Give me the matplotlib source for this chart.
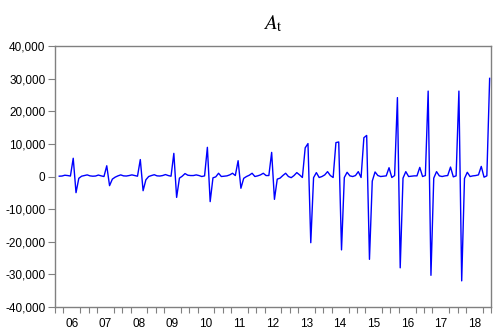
import numpy as np
import matplotlib
matplotlib.use('Agg')
import matplotlib.pyplot as plt
from matplotlib.ticker import FuncFormatter, FixedLocator

## Monthly values of A_t, 2006m1 - 2018m12 (2006m1 not available)
years = ['06', '07', '08', '09', '10', '11', '12', '13', '14', '15', '16', '17', '18']
a_2006 = [np.nan, 100, 150, 400, 300, 150, 5600, -4950, -550, 100, 300, 500]
a_2007 = [200, 100, 150, 450, 200, 0, 3300, -2800, -800, -200, 200, 500]
a_2008 = [200, 150, 300, 500, 300, 100, 5200, -4350, -1000, 0, 300, 550]
a_2009 = [200, 150, 300, 600, 300, 100, 7100, -6400, -500, 100, 900, 400]
a_2010 = [300, 300, 500, 300, 0, 200, 8950, -7700, -400, -100, 1000, 0]
a_2011 = [100, 200, 500, 1000, 300, 4850, -3600, -550, 0, 400, 1000, 0]
a_2012 = [200, 500, 1000, 300, 300, 7400, -7000, -800, -500, 300, 1000, 0]
a_2013 = [-350, 300, 1200, 500, -300, 8800, 10100, -20300, -350, 1200, -300, 0]
a_2014 = [500, 1500, 300, -300, 10400, 10600, -22500, -300, 1300, 200, 0, 300]
a_2015 = [1500, -300, 11900, 12600, -25400, -1400, 1400, 300, 0, 100, 200, 2700]
a_2016 = [-300, 300, 24200, -28000, -500, 1500, 0, 100, 200, 200, 2800, 0]
a_2017 = [300, 26200, -30300, -500, 1500, 200, 0, 200, 300, 2900, -100, 200]
a_2018 = [26200, -32000, -600, 1300, 0, 200, 300, 500, 3100, -200, 200, 30100]

values = np.array(a_2006 + a_2007 + a_2008 + a_2009 + a_2010 + a_2011 + a_2012 +
                  a_2013 + a_2014 + a_2015 + a_2016 + a_2017 + a_2018, dtype=float)
months = np.arange(len(values)) + 0.5

plt.rcParams['font.family'] = ['Liberation Sans', 'DejaVu Sans']
plt.rcParams['mathtext.fontset'] = 'stix'

fig = plt.figure(figsize=(4.96, 3.34), dpi=100)
ax = fig.add_axes([0.111, 0.081, 0.879, 0.781])

ax.plot(months, values, color='#0000ff', linewidth=1.0)

ax.set_xlim(0, len(values))
ax.set_ylim(-40000, 40000)
ax.set_yticks(np.arange(-40000, 40001, 10000))
ax.yaxis.set_major_formatter(FuncFormatter(lambda v, p: '{:,.0f}'.format(v)))

# year labels at mid-year, quarter ticks along the bottom
ax.xaxis.set_major_locator(FixedLocator([12 * k + 6 for k in range(len(years))]))
ax.set_xticklabels(years)
ax.xaxis.set_minor_locator(FixedLocator(np.arange(0, len(values) + 1, 3)))
ax.tick_params(axis='x', which='major', length=0, pad=8, labelsize=8.5)
ax.tick_params(axis='x', which='minor', length=4, color='#808080', width=0.8)
ax.tick_params(axis='y', which='major', length=5, color='#808080', width=0.8, pad=2, labelsize=8.5)

for sp in ax.spines.values():
	sp.set_color('#808080')
	sp.set_linewidth(1.0)

ax.set_title(r'$\mathit{A}_{\mathrm{t}}$', fontsize=15, pad=12)

fig.savefig('out.png', dpi=100)
